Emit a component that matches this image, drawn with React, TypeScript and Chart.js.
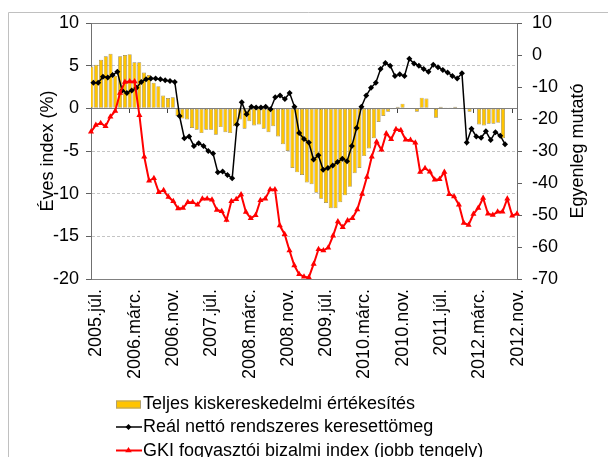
import { useEffect, useRef } from 'react';
import { Chart, registerables } from 'chart.js';

Chart.register(...registerables);

const FONT = "'Liberation Sans', Arial, sans-serif";

const YEARS = [2005, 2006, 2007, 2008, 2009, 2010, 2011, 2012];
const MONTHS = ['jan.', 'febr.', 'márc.', 'ápr.', 'máj.', 'jún.', 'júl.', 'aug.', 'szept.', 'okt.', 'nov.', 'dec.'];
const FIRST_MONTH = 6; // 2005.júl.
const LAST_MONTH = 10; // 2012.nov.

const categories: string[] = [];
YEARS.forEach((y, yi) => {
  MONTHS.forEach((m, mi) => {
    if (yi === 0 && mi < FIRST_MONTH) return;
    if (yi === YEARS.length - 1 && mi > LAST_MONTH) return;
    categories.push(`${y}.${m}`);
  });
});

const LABEL_EVERY = 8;

// Teljes kiskereskedelmi értékesítés (bal tengely, %)
const retailSales = [
  4.9, 5.1, 5.7, 6.1, 6.4, 3.8, 6.1, 6.25, 6.35, 5.4,
  5.4, 4.2, 3.9, 3.0, 2.6, 1.5, 1.2, 1.3, -0.9, -1.2,
  -1.3, -2.3, -2.5, -2.9, -2.5, -2.5, -3.1, -2.2, -2.8, -2.9,
  -2.1, -1.3, -2.4, -1.5, -2.0, -1.9, -2.4, -2.8, -2.1, -3.3,
  -4.2, -5.0, -7.0, -7.5, -7.8, -8.7, -8.9, -9.9, -10.6, -11.1,
  -11.7, -11.7, -11.0, -10.2, -9.2, -7.6, -7.0, -5.6, -4.7, -3.5,
  -1.6, -0.9, -0.4, -0.1, 0.2, 0.55, 0, 0, -0.4, 1.25,
  1.15, 0, -1.1, 0.2, 0.05, 0.05, 0.2, 0, 0, -0.4,
  -0.1, -1.9, -2.0, -1.8, -1.8, -1.7, -3.5,
];

// Reál nettó rendszeres keresettömeg (bal tengely, %)
const realWages = [
  3.0, 3.0, 3.7, 3.6, 3.9, 4.3, 2.1, 1.8, 2.1, 2.4,
  3.1, 3.4, 3.5, 3.5, 3.4, 3.3, 3.2, 3.1, -0.9, -3.5,
  -3.3, -4.4, -4.1, -4.4, -5.0, -5.3, -7.5, -7.4, -7.8, -8.2,
  -1.9, 0.7, -0.7, 0.2, 0.1, 0.1, 0.2, -0.1, 1.3, 1.5,
  1.1, 1.8, 0.2, -2.9, -3.6, -4.0, -6.0, -5.5, -7.2, -7.0,
  -6.7, -6.3, -5.9, -6.2, -4.4, -2.3, 0.2, 1.5, 2.4, 3.0,
  4.6, 5.3, 5.0, 3.8, 4.0, 3.8, 5.8, 5.25, 5.0, 4.6,
  4.3, 5.1, 4.8, 4.5, 4.2, 3.8, 3.5, 4.1, -4.0, -2.4,
  -3.3, -3.45, -2.7, -3.7, -2.8, -3.2, -4.2,
];

// GKI fogyasztói bizalmi index (jobb tengely)
const gkiIndex = [
  -24.0, -21.9, -21.3, -22.3, -19.3, -17.5, -11.9, -8.4, -8.3, -8.3,
  -18.8, -31.8, -39.3, -38.5, -42.9, -42.3, -44.4, -45.7, -48.0, -47.8,
  -46.0, -46.0, -46.8, -44.9, -44.9, -45.2, -48.4, -48.8, -51.6, -45.7,
  -45.1, -43.6, -49.1, -51.0, -50.1, -45.4, -44.9, -42.0, -42.0, -53.3,
  -56.0, -61.1, -65.8, -68.5, -69.3, -69.5, -65.3, -60.7, -61.1, -60.2,
  -56.5, -52.0, -53.8, -51.7, -51.0, -48.3, -43.4, -38.1, -31.8, -27.1,
  -29.6, -24.5, -26.3, -23.2, -23.5, -26.5, -26.6, -27.4, -36.6, -35.4,
  -36.5, -39.0, -38.8, -36.6, -43.5, -44.2, -46.8, -52.5, -53.1, -49.7,
  -47.8, -44.7, -49.6, -50.0, -49.0, -49.0, -44.9, -50.2, -49.6,
];

const LEFT_TICKS = [10, 5, 0, -5, -10, -15, -20];
const RIGHT_TICKS = [10, 0, -10, -20, -30, -40, -50, -60, -70];
const DASHED_LEFT = [5, -5, -10, -15];

const SERIES_NAMES = [
  'Teljes kiskereskedelmi értékesítés',
  'Reál nettó rendszeres keresettömeg',
  'GKI fogyasztói bizalmi index (jobb tengely)',
];
const LEFT_TITLE = 'Éves index (%)';
const RIGHT_TITLE = 'Egyenleg mutató';

const BAR_FILL = '#FFC400';
const BAR_EDGE = '#948250';
const BLACK = '#000000';
const RED = '#FF0000';

function drawMarker(ctx: CanvasRenderingContext2D, style: string, x: number, y: number, r: number, color: string) {
  ctx.save();
  ctx.fillStyle = color;
  ctx.beginPath();
  if (style === 'rectRot') {
    ctx.moveTo(x, y - r);
    ctx.lineTo(x + r, y);
    ctx.lineTo(x, y + r);
    ctx.lineTo(x - r, y);
  } else {
    const h = r * 1.5;
    ctx.moveTo(x, y - r);
    ctx.lineTo(x + r * 0.95, y + h - r);
    ctx.lineTo(x - r * 0.95, y + h - r);
  }
  ctx.closePath();
  ctx.fill();
  ctx.restore();
}

export default function App() {
  const ref = useRef<HTMLCanvasElement>(null);

  useEffect(() => {
    const canvas = ref.current;
    if (!canvas) return;

    const overlay = {
      id: 'overlay',
      beforeDraw(chart: any) {
        const ctx = chart.ctx as CanvasRenderingContext2D;
        ctx.save();
        ctx.strokeStyle = '#c0c0c0';
        ctx.lineWidth = 1;
        ctx.beginPath();
        ctx.moveTo(8.5, chart.height);
        ctx.lineTo(8.5, 12.5);
        ctx.lineTo(chart.width, 12.5);
        ctx.stroke();
        ctx.restore();
      },
      afterDraw(chart: any) {
        const ctx = chart.ctx as CanvasRenderingContext2D;
        const area = chart.chartArea;
        const y2 = chart.scales.y2;
        ctx.save();
        ctx.font = `18px ${FONT}`;
        ctx.fillStyle = '#000';
        // right axis title (reads bottom to top)
        ctx.save();
        ctx.translate(y2.left + 61, (area.top + area.bottom) / 2);
        ctx.rotate(-Math.PI / 2);
        ctx.textAlign = 'center';
        ctx.textBaseline = 'middle';
        ctx.fillText(RIGHT_TITLE, 0, 0);
        ctx.restore();

        // legend
        const sx = 116;
        const sw = 25;
        const tx = 143;
        const rows = [408.5, 432, 455.5];
        ctx.textAlign = 'left';
        ctx.textBaseline = 'alphabetic';
        // row 1: bar swatch
        ctx.fillStyle = BAR_FILL;
        ctx.fillRect(sx, rows[0] - 8, sw, 8);
        ctx.strokeStyle = '#b0a070';
        ctx.lineWidth = 1;
        ctx.strokeRect(sx + 0.5, rows[0] - 7.5, sw - 1, 7);
        // row 2: black line with diamond
        ctx.strokeStyle = BLACK;
        ctx.lineWidth = 1.5;
        ctx.beginPath();
        ctx.moveTo(sx, rows[1] - 5);
        ctx.lineTo(sx + sw + 1, rows[1] - 5);
        ctx.stroke();
        drawMarker(ctx, 'rectRot', sx + sw / 2, rows[1] - 5, 3, BLACK);
        // row 3: red line with triangle
        ctx.strokeStyle = RED;
        ctx.lineWidth = 2;
        ctx.beginPath();
        ctx.moveTo(sx, rows[2] - 5);
        ctx.lineTo(sx + sw + 1, rows[2] - 5);
        ctx.stroke();
        drawMarker(ctx, 'triangle', sx + sw / 2, rows[2] - 5, 3.5, RED);
        ctx.fillStyle = '#000';
        SERIES_NAMES.forEach((name, i) => ctx.fillText(name, tx, rows[i]));
        ctx.restore();
      },
    };

    const font = { family: FONT, size: 18 };

    const chart = new Chart(canvas, {
      type: 'bar',
      data: {
        labels: categories,
        datasets: [
          {
            type: 'bar',
            label: SERIES_NAMES[0],
            data: retailSales,
            backgroundColor: BAR_FILL,
            borderColor: BAR_EDGE,
            borderWidth: 0.7,
            borderSkipped: false,
            inflateAmount: 0,
            barThickness: 4,
            xAxisID: 'x',
            yAxisID: 'y',
            order: 3,
          },
          {
            type: 'line',
            label: SERIES_NAMES[1],
            data: realWages,
            borderColor: BLACK,
            backgroundColor: BLACK,
            borderWidth: 1.5,
            pointStyle: 'rectRot',
            pointRadius: 3,
            pointBorderWidth: 0,
            tension: 0,
            fill: false,
            xAxisID: 'x',
            yAxisID: 'y',
            order: 2,
          },
          {
            type: 'line',
            label: SERIES_NAMES[2],
            data: gkiIndex,
            borderColor: RED,
            backgroundColor: RED,
            borderWidth: 2,
            pointStyle: 'triangle',
            pointRadius: 3.5,
            pointBorderWidth: 0,
            tension: 0,
            fill: false,
            xAxisID: 'x2',
            yAxisID: 'y2',
            order: 1,
          },
        ] as any,
      },
      options: {
        responsive: true,
        maintainAspectRatio: false,
        animation: false,
        layout: { padding: { top: 23, left: 0, right: 0, bottom: 0 } },
        plugins: {
          legend: { display: false },
          tooltip: { enabled: false },
        },
        scales: {
          x: {
            type: 'category',
            position: 'bottom',
            offset: true,
            grid: { display: false, drawTicks: false },
            border: { display: true, color: '#808080', width: 1 },
            ticks: {
              autoSkip: false,
              maxRotation: 90,
              minRotation: 90,
              padding: 10,
              labelOffset: 3,
              color: '#000',
              font,
              callback(this: any, value: any, index: number) {
                return index % LABEL_EVERY === 0 ? this.getLabelForValue(value) : '';
              },
            },
            afterFit(s: any) {
              s.height = 178;
            },
          },
          x2: {
            type: 'category',
            offset: false,
            display: false,
          },
          xz: {
            type: 'category',
            position: { y: 0 },
            offset: true,
            ticks: { display: false },
            grid: {
              drawOnChartArea: false,
              drawTicks: true,
              tickLength: 4,
              offset: true,
              color: (c: any) => (c.index % LABEL_EVERY === 0 ? '#404040' : 'rgba(0,0,0,0)'),
            },
            border: { display: true, color: '#808080', width: 1 },
          },
          y: {
            type: 'linear',
            position: 'left',
            min: LEFT_TICKS[LEFT_TICKS.length - 1],
            max: LEFT_TICKS[0],
            ticks: { stepSize: 5, padding: 7, color: '#000', font },
            grid: {
              drawTicks: true,
              tickLength: 5,
              tickColor: '#606060',
              color: (c: any) => {
                const v = c.tick ? c.tick.value : null;
                if (v === LEFT_TICKS[0]) return '#808080';
                if (DASHED_LEFT.includes(v)) return '#c4c4c4';
                return 'rgba(0,0,0,0)';
              },
            },
            border: {
              display: true,
              color: '#707070',
              width: 1,
              dash: (c: any) => {
                const v = c.tick ? c.tick.value : null;
                return DASHED_LEFT.includes(v) ? [3, 2] : [];
              },
            },
            title: {
              display: true,
              text: LEFT_TITLE,
              color: '#000',
              font,
              padding: { top: 37, bottom: 0 },
            },
            afterFit(s: any) {
              s.width = 91;
            },
          },
          y2: {
            type: 'linear',
            position: 'right',
            min: RIGHT_TICKS[RIGHT_TICKS.length - 1],
            max: RIGHT_TICKS[0],
            ticks: { stepSize: 10, padding: 10, color: '#000', font },
            grid: {
              drawOnChartArea: false,
              drawTicks: true,
              tickLength: 5,
              tickColor: '#606060',
            },
            border: { display: true, color: '#707070', width: 1 },
            afterFit(s: any) {
              s.width = 91;
            },
          },
        },
      } as any,
      plugins: [overlay],
    });

    return () => chart.destroy();
  }, []);

  return (
    <div style={{ position: 'fixed', left: 0, top: 0, width: 608, height: 457, background: '#fff' }}>
      <canvas ref={ref} />
    </div>
  );
}
